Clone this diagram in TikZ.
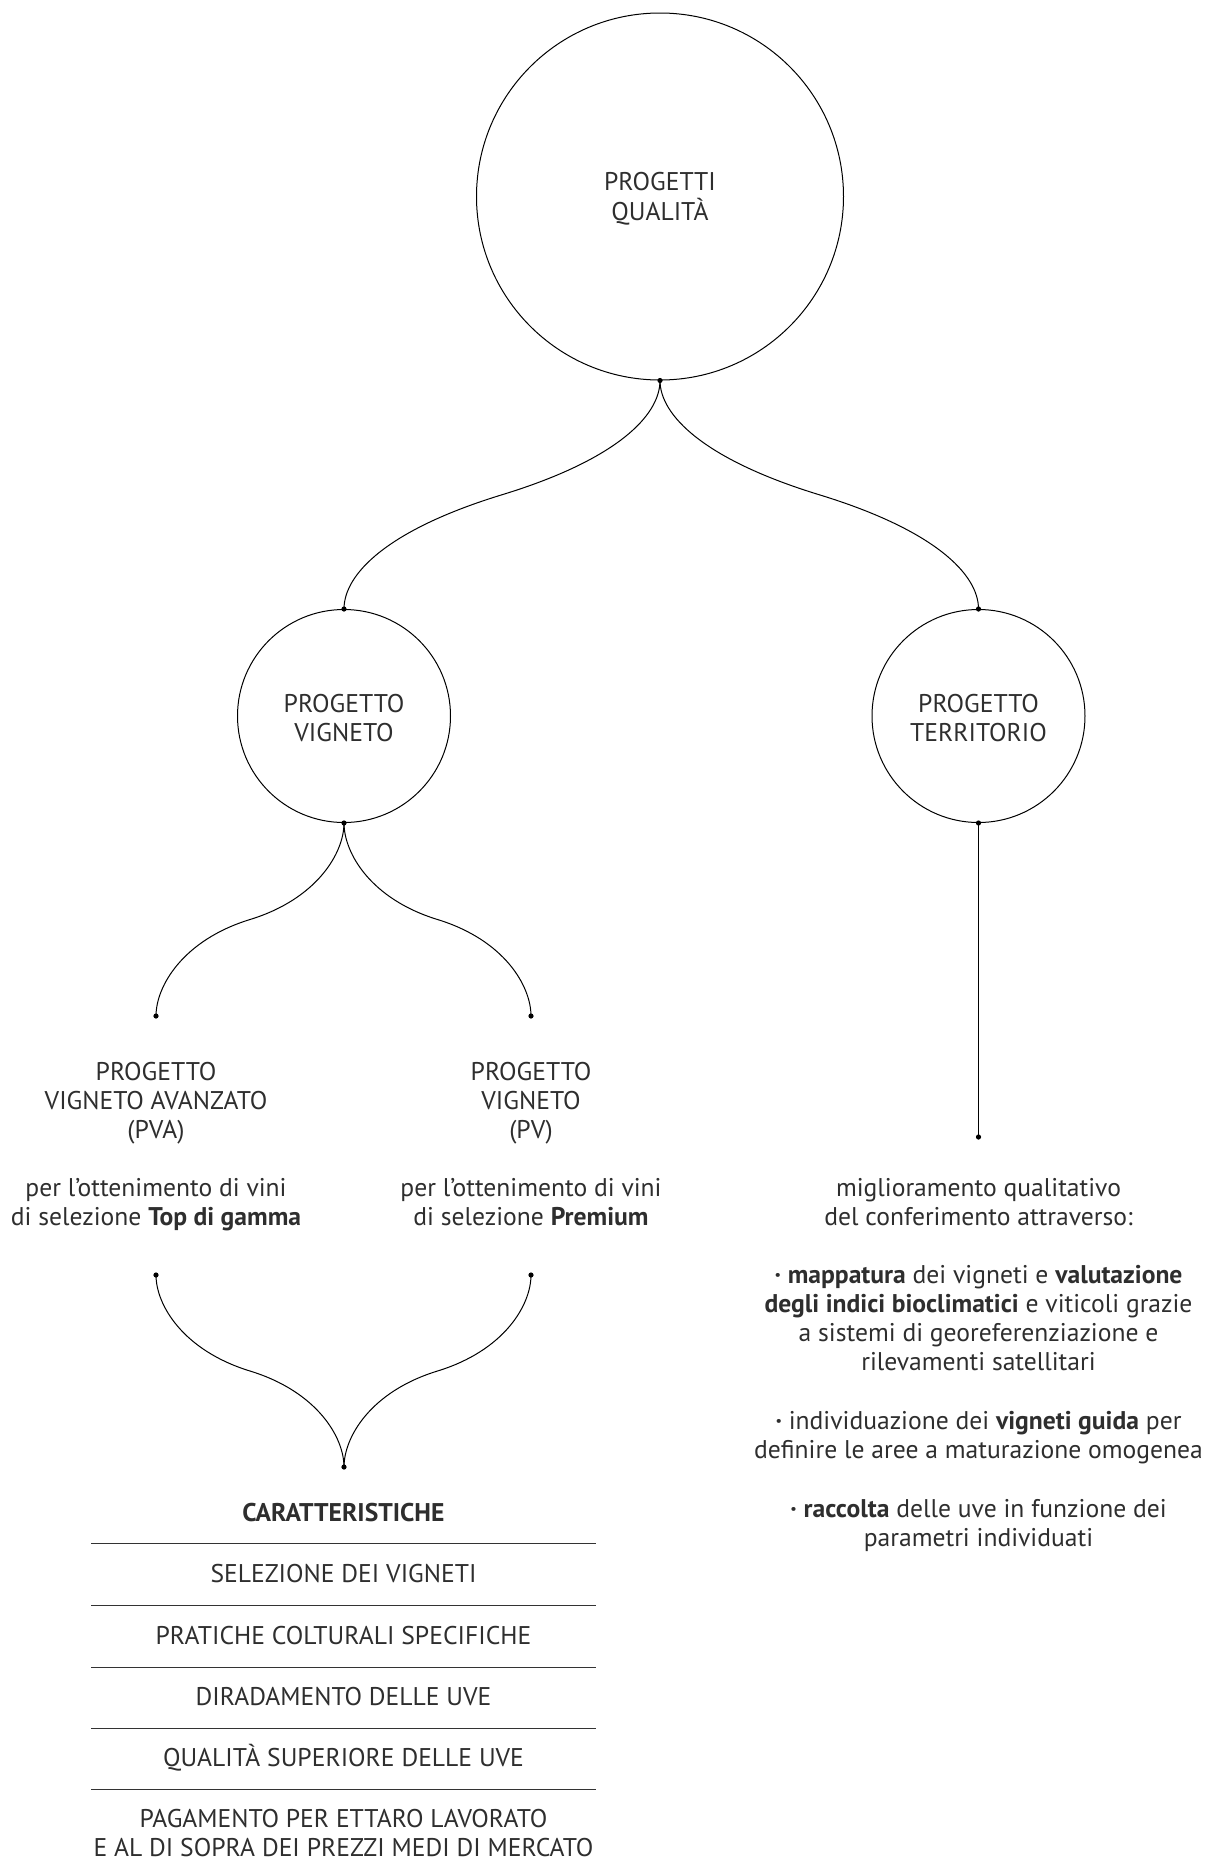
\documentclass[tikz,border=0pt]{standalone}
\usepackage{fontspec}
\setmainfont{PT Sans}
\usetikzlibrary{calc}
\begin{document}
\begin{tikzpicture}[x=1pt,y=-1pt,
  txt/.style={font=\fontsize{25.6}{29.1}\selectfont, align=center, inner sep=0pt, text=black!82},
  bubble/.style={draw, circle, line width=1pt, inner sep=0pt, txt, text depth=0pt},
  link/.style={line width=1pt},
  rule/.style={line width=1pt, draw=black!80},
  dotmark/.style={fill=black}]
\useasboundingbox (0,0) rectangle (1211,1872);

% circles
\node[bubble, minimum size=367pt, text height=47pt] (Q) at (660,196.5) {PROGETTI\\QUALITÀ};
\node[bubble, minimum size=213pt, text height=51.4pt] (V) at (344,716) {PROGETTO\\VIGNETO};
\node[bubble, minimum size=213pt, text height=51.4pt] (T) at (978.5,716) {PROGETTO\\TERRITORIO};

% end points
\coordinate (pvaTop) at (156,1016);
\coordinate (pvTop) at (531,1016);
\coordinate (pvaBot) at (156,1275);
\coordinate (pvBot) at (531,1275);
\coordinate (merge) at (344,1467);
\coordinate (tEnd) at (978.5,1137);

% midpoints
\coordinate (M1) at ($(Q.south)!0.5!(V.north)$);
\coordinate (M2) at ($(Q.south)!0.5!(T.north)$);
\coordinate (M3) at ($(V.south)!0.5!(pvaTop)$);
\coordinate (M4) at ($(V.south)!0.5!(pvTop)$);
\coordinate (M5) at ($(pvaBot)!0.5!(merge)$);
\coordinate (M6) at ($(pvBot)!0.5!(merge)$);

% connectors
\draw[link] (Q.south) .. controls ($(Q.south)+(0,35)$) and ($(M1)+(114.8,-35.1)$) .. (M1)
  .. controls ($(M1)+(-114.8,35.1)$) and ($(V.north)+(0,-35)$) .. (V.north);
\draw[link] (Q.south) .. controls ($(Q.south)+(0,35)$) and ($(M2)+(-114.8,-35.1)$) .. (M2)
  .. controls ($(M2)+(114.8,35.1)$) and ($(T.north)+(0,-35)$) .. (T.north);

\draw[link] (V.south) .. controls ($(V.south)+(0,30)$) and ($(M3)+(66.9,-20.5)$) .. (M3)
  .. controls ($(M3)+(-66.9,20.5)$) and ($(pvaTop)+(0,-30)$) .. (pvaTop);
\draw[link] (V.south) .. controls ($(V.south)+(0,30)$) and ($(M4)+(-66.9,-20.5)$) .. (M4)
  .. controls ($(M4)+(66.9,20.5)$) and ($(pvTop)+(0,-30)$) .. (pvTop);

\draw[link] (pvaBot) .. controls ($(pvaBot)+(0,30)$) and ($(M5)+(-66.9,-20.5)$) .. (M5)
  .. controls ($(M5)+(66.9,20.5)$) and ($(merge)+(0,-30)$) .. (merge);
\draw[link] (pvBot) .. controls ($(pvBot)+(0,30)$) and ($(M6)+(66.9,-20.5)$) .. (M6)
  .. controls ($(M6)+(-66.9,20.5)$) and ($(merge)+(0,-30)$) .. (merge);

\draw[link] (T.south) -- (tEnd);

% dots
\foreach \p in {Q.south, V.north, T.north, V.south, T.south, pvaTop, pvTop, pvaBot, pvBot, merge, tEnd}
  \fill[dotmark] (\p) circle (2.6pt);

% left texts (anchor = baseline of the last line)
\node[txt, anchor=base] (pva) at (156,1138.9) {PROGETTO\\VIGNETO AVANZATO\\(PVA)};
\node[txt, anchor=base] (pvadesc) at (156,1225.1) {per l’ottenimento di vini\\di selezione \textbf{Top di gamma}};
\node[txt, anchor=base] (pv) at (531,1138.9) {PROGETTO\\VIGNETO\\(PV)};
\node[txt, anchor=base] (pvdesc) at (531,1225.1) {per l’ottenimento di vini\\di selezione \textbf{Premium}};

% right texts
\node[txt, anchor=base] (t1) at (978.5,1225.1) {miglioramento qualitativo\\del conferimento attraverso:};
\node[txt, anchor=base] (t2) at (978.5,1370.9) {\textbf{·} \textbf{mappatura} dei vigneti e \textbf{valutazione}\\\textbf{degli indici bioclimatici} e viticoli grazie\\a sistemi di georeferenziazione e\\rilevamenti satellitari};
\node[txt, anchor=base] (t3) at (978.5,1458.7) {\textbf{·} individuazione dei \textbf{vigneti guida} per\\definire le aree a maturazione omogenea};
\node[txt, anchor=base] (t4) at (978.5,1546.3) {\textbf{·} \textbf{raccolta} delle uve in funzione dei\\parametri individuati};

% table
\node[txt, anchor=base] (car) at (343.5,1521.5) {\textbf{CARATTERISTICHE}};
\draw[rule] (91,1543) -- (596,1543);
\node[txt, anchor=base] (r1) at (343.5,1582) {SELEZIONE DEI VIGNETI};
\draw[rule] (91,1605) -- (596,1605);
\node[txt, anchor=base] (r2) at (343.5,1644) {PRATICHE COLTURALI SPECIFICHE};
\draw[rule] (91,1667) -- (596,1667);
\node[txt, anchor=base] (r3) at (343.5,1705) {DIRADAMENTO DELLE UVE};
\draw[rule] (91,1728) -- (596,1728);
\node[txt, anchor=base] (r4) at (343.5,1766) {QUALITÀ SUPERIORE DELLE UVE};
\draw[rule] (91,1789) -- (596,1789);
\node[txt, anchor=base] (r5) at (343.5,1856.1) {PAGAMENTO PER ETTARO LAVORATO\\E AL DI SOPRA DEI PREZZI MEDI DI MERCATO};
\end{tikzpicture}
\end{document}
